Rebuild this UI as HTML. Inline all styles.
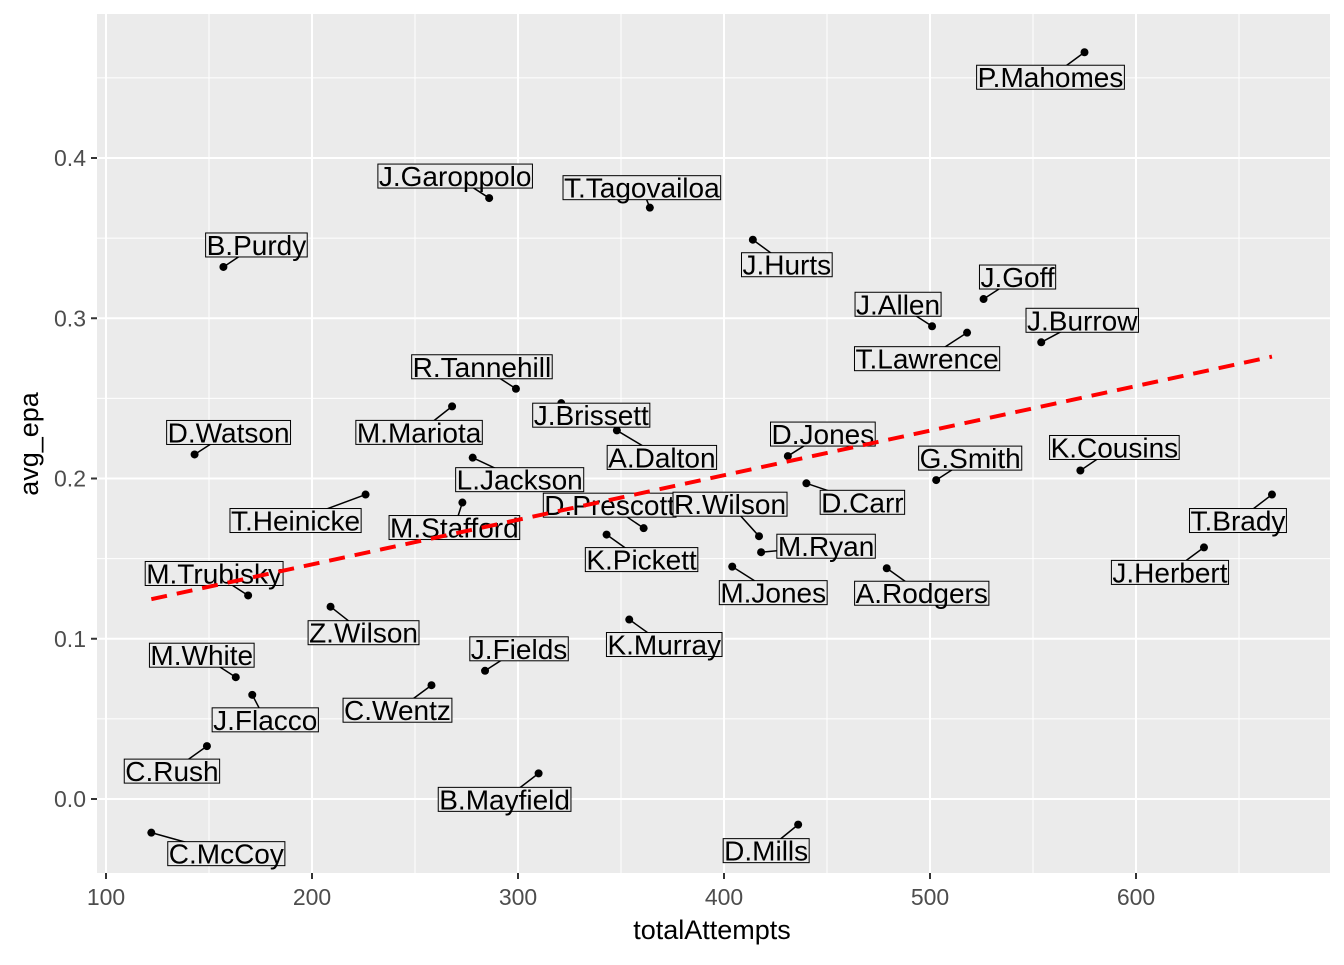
<!DOCTYPE html>
<html><head><meta charset="utf-8"><style>
body{margin:0;background:#fff}
svg text{font-family:"Liberation Sans",sans-serif}
</style></head><body>
<svg id="chart" width="1344" height="960" xmlns="http://www.w3.org/2000/svg">
<rect x="97" y="14" width="1233" height="859" fill="#ebebeb"/>
<g id="grid"></g><g id="marks"></g><g id="labels"></g><g id="trend"></g><g id="axes"></g>
<text x="712" y="939" font-size="27" text-anchor="middle" fill="#000">totalAttempts</text>
<text transform="translate(38,444) rotate(-90)" font-size="27" text-anchor="middle" fill="#000">avg_epa</text>
</svg>
<script>
const players=["P.Mahomes","J.Garoppolo","T.Tagovailoa","B.Purdy","J.Hurts","J.Goff","J.Allen","T.Lawrence","J.Burrow","R.Tannehill","M.Mariota","J.Brissett","A.Dalton","D.Watson","D.Jones","L.Jackson","K.Cousins","G.Smith","D.Carr","T.Heinicke","T.Brady","M.Stafford","D.Prescott","R.Wilson","K.Pickett","M.Ryan","J.Herbert","M.Jones","A.Rodgers","M.Trubisky","Z.Wilson","K.Murray","J.Fields","M.White","J.Flacco","C.Wentz","C.Rush","B.Mayfield","C.McCoy","D.Mills"];
const totalAttempts=[575,286,364,157,414,526,501,518,554,299,268,321,348,143,431,278,573,503,440,226,666,273,361,417,343,418,633,404,479,169,209,354,284,163,171,258,149,310,122,436];
const avgEpa=[0.466,0.375,0.369,0.332,0.349,0.312,0.295,0.291,0.285,0.256,0.245,0.247,0.230,0.215,0.214,0.213,0.205,0.199,0.197,0.190,0.190,0.185,0.169,0.164,0.165,0.154,0.157,0.145,0.144,0.127,0.120,0.112,0.080,0.076,0.065,0.071,0.033,0.016,-0.021,-0.016];
const labelDx=[-34,-34,-8,33,34,34,-34,-40,41,-34,-33,30,45,34,35,47,34,34,56,-70,-34,-8,-34,-29,35,65,-34,41,35,-34,33,35,34,-34,13,-34,-35,-34,75,-32];
const labelDy=[25,-22,-20,-22,25,-22,-22,26,-22,-22,26,12,27,-22,-22,22,-23,-22,19,26,26,25,-23,-32,25,-6,25,26,25,-22,26,25,-22,-22,25,25,25,26,21,26];
const xTicks=[100,200,300,400,500,600];
const yTicks=[0.0,0.1,0.2,0.3,0.4];
const yTickLabels=["0.0","0.1","0.2","0.3","0.4"];
const X=v=>106+(v-100)*2.06;
const Y=v=>799-v*1602.5;
const NS="http://www.w3.org/2000/svg";
function mk(t,a,p){const e=document.createElementNS(NS,t);for(const k in a)e.setAttribute(k,a[k]);p.appendChild(e);return e;}
const grid=document.getElementById('grid'),axes=document.getElementById('axes');
[150,250,350,450,550,650].forEach(v=>{const l=mk('line',{x1:X(v),x2:X(v),y1:14,y2:873,stroke:'#fff','stroke-width':1},grid);});
[0.05,0.15,0.25,0.35,0.45].forEach(v=>{const l=mk('line',{x1:97,x2:1330,y1:Y(v),y2:Y(v),stroke:'#fff','stroke-width':1},grid);});
xTicks.forEach(v=>{const l=mk('line',{x1:X(v),x2:X(v),y1:14,y2:873,stroke:'#fff','stroke-width':2},grid);
mk('line',{x1:X(v),x2:X(v),y1:873,y2:879,stroke:'#333','stroke-width':2},axes);
const t=mk('text',{x:X(v),y:905,'font-size':23,'text-anchor':'middle',fill:'#4d4d4d'},axes);t.textContent=v;});
yTicks.forEach((v,i)=>{const l=mk('line',{x1:97,x2:1330,y1:Y(v),y2:Y(v),stroke:'#fff','stroke-width':2},grid);
mk('line',{x1:91,x2:97,y1:Y(v),y2:Y(v),stroke:'#333','stroke-width':2},axes);
const t=mk('text',{x:86,y:Y(v)+8,'font-size':23,'text-anchor':'end',fill:'#4d4d4d'},axes);t.textContent=yTickLabels[i];});
const marks=document.getElementById('marks'),labels=document.getElementById('labels');
players.forEach((p,i)=>{const px=X(totalAttempts[i]),py=Y(avgEpa[i]);const lx=px+labelDx[i],ly=py+labelDy[i];
mk('line',{x1:px,y1:py,x2:lx,y2:ly,stroke:'#000','stroke-width':1.5},marks);
const c=mk('circle',{cx:px,cy:py,r:4,fill:'#000'},marks);
const g=mk('g',{},labels);
const t=mk('text',{x:lx,y:ly+10,'font-size':28,'text-anchor':'middle',fill:'#000'},g);t.textContent=p;
const w=t.getComputedTextLength()+2;
const r=mk('rect',{x:lx-w/2,y:ly-12,width:w,height:24,fill:'#ebebeb',stroke:'#000','stroke-width':1},g);g.insertBefore(r,t);});
const n=totalAttempts.length;let mx=0,my=0;for(let i=0;i<n;i++){mx+=totalAttempts[i];my+=avgEpa[i];}mx/=n;my/=n;
let sxy=0,sxx=0;for(let i=0;i<n;i++){sxy+=(totalAttempts[i]-mx)*(avgEpa[i]-my);sxx+=(totalAttempts[i]-mx)**2;}
const b=sxy/sxx,a=my-b*mx;const x0=Math.min(...totalAttempts),x1=Math.max(...totalAttempts);
const tl=mk('line',{x1:X(x0),y1:Y(a+b*x0),x2:X(x1),y2:Y(a+b*x1),stroke:'#ff0000','stroke-width':4,'stroke-dasharray':'16,10'},document.getElementById('trend'));

</script>
</body></html>
